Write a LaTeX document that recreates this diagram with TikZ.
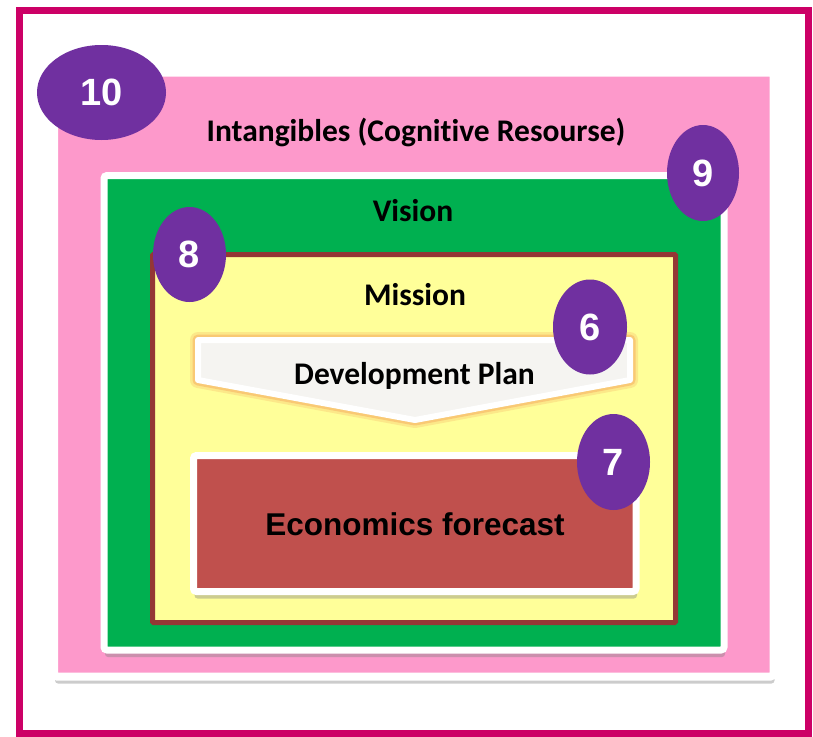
\documentclass[tikz,border=0pt]{standalone}
\usepackage{fontspec}
\setmainfont{Carlito}[Ligatures={NoCommon}]
\newfontfamily\arialfont{Liberation Sans}
\usetikzlibrary{shadows,shapes.geometric}
\definecolor{frameC}{HTML}{CC0066}
\definecolor{pinkC}{HTML}{FD99CB}
\definecolor{greenC}{HTML}{00B050}
\definecolor{yellowC}{HTML}{FFFF99}
\definecolor{brownC}{HTML}{953735}
\definecolor{redC}{HTML}{C0504D}
\definecolor{purpC}{HTML}{7030A0}
\definecolor{grayC}{HTML}{F5F4F1}
\definecolor{glowC}{HTML}{F7A45C}
\tikzset{
  numell/.style={ellipse, fill=purpC, inner sep=0pt, text=white, font=\arialfont\bfseries\fontsize{38}{38}\selectfont},
  wbox/.style={draw=white, rounded corners=3pt, drop shadow={opacity=0.4, shadow xshift=1pt, shadow yshift=-7pt}},
  title/.style={font=\bfseries\fontsize{31.5}{31.5}\selectfont, text=black, inner sep=0pt}
}
\begin{document}
\begin{tikzpicture}[x=1pt,y=-1pt]
\useasboundingbox (0,0) rectangle (813,736);
\fill[white] (0,0) rectangle (813,736);
% outer frame
\draw[frameC, line width=7pt] (19.5,10) rectangle (808.5,733);
% pink box
\draw[wbox, line width=8pt, fill=pinkC] (54,72.5) rectangle (773.5,676.5);
\node[title] (intang) at (416,132) {Intangibles (Cognitive Resourse)};
% green box
\draw[wbox, line width=7pt, fill=greenC] (104,175.5) rectangle (724,650);
\node[title] (vision) at (413,211) {Vision};
% yellow box
\draw[brownC, line width=5pt, fill=yellowC, rounded corners=1pt] (152.5,254.5) rectangle (675.5,622.5);
\node[title] (mission) at (415,295) {Mission};
% development plan chevron
\path[draw=glowC, line width=16pt, opacity=0.25, line join=round]
  (198,340) -- (630,340) -- (630,380) -- (415,420) -- (198,380) -- cycle;
\path[draw=glowC, line width=11pt, opacity=0.45, line join=round]
  (198,340) -- (630,340) -- (630,380) -- (415,420) -- (198,380) -- cycle;
\path[draw=white, fill=grayC, line width=6pt, line join=round]
  (198,340) -- (630,340) -- (630,380) -- (415,420) -- (198,380) -- cycle;
\node[title] (devplan) at (414.5,376) {Development Plan};
% economics forecast
\draw[wbox, line width=7pt, fill=redC] (193.5,455.5) rectangle (636,591.5);
\node[font=\arialfont\bfseries\fontsize{31.5}{31.5}\selectfont, inner sep=0pt] (econ) at (415,524) {Economics forecast};
% numbered ellipses
\node[numell, minimum width=129pt, minimum height=95pt] (n10) at (101.5,92.5) {10};
\node[numell, minimum width=72pt, minimum height=96pt] (n9) at (703,173) {9};
\node[numell, minimum width=73pt, minimum height=95pt] (n8) at (189.5,254.5) {8};
\node[numell, minimum width=74pt, minimum height=95pt] (n6) at (590,327) {6};
\node[numell, minimum width=73pt, minimum height=96pt] (n7) at (613.5,462) {7};
\end{tikzpicture}
\end{document}
